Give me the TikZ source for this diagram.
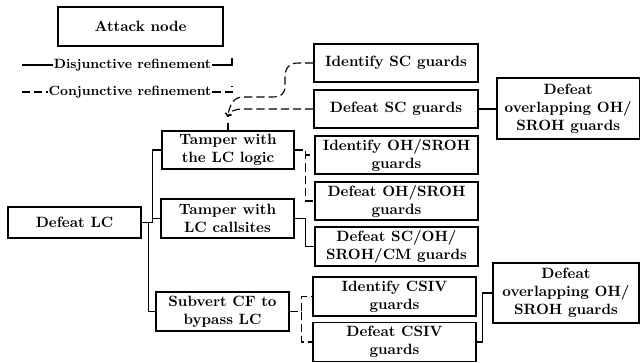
\documentclass[tikz,border=0pt]{standalone}
\usetikzlibrary{calc}
\newlength{\px}\setlength{\px}{0.671pt}
\tikzset{
  box/.style={draw, line width=0.75pt, align=center, inner sep=0pt, font=\bfseries},
  disj/.style={line width=0.75pt},
  conj/.style={line width=0.75pt, dash pattern=on 5.5pt off 2.7pt},
  legendtext/.style={fill=white, inner xsep=0.5pt, inner ysep=1pt, font=\small\bfseries},
}
\begin{document}
\begin{tikzpicture}[x=0.671pt,y=-0.671pt]
\useasboundingbox (0,0) rectangle (640,362);
% legend
\node[box, minimum width=165\px, minimum height=39\px] (attack) at (140.5,26.5) {Attack node};
\node[legendtext] (dis) at (132.5,65) {Disjunctive refinement};
\node[legendtext] (con) at (130,92) {Conjunctive refinement};
\coordinate (d0) at (22,65);
\coordinate (d1) at (232,65);
\coordinate (d2) at (232,58);
\coordinate (c0) at (22,92);
\coordinate (c1) at (232,92);
\coordinate (c2) at (232,86);
\draw[disj] (d0) -- (dis.west);
\draw[disj] (dis.east) -- (d1) -- (d2);
\draw[conj] (c0) -- (con.west);
\draw[conj] (con.east) -- (c1) -- (c2);
% nodes
\node[box, minimum width=133\px, minimum height=31\px] (dlc) at (74.5,222.5) {Defeat LC};
\node[box, minimum width=132\px, minimum height=38\px] (tlogic) at (228,150) {Tamper with\\the LC logic};
\node[box, minimum width=133\px, minimum height=39\px] (tcall) at (227.5,218.5) {Tamper with\\LC callsites};
\node[box, minimum width=133\px, minimum height=39\px] (subv) at (222.5,311.5) {Subvert CF to\\bypass LC};
\node[box, minimum width=164\px, minimum height=38\px] (idsc) at (396,63) {Identify SC guards};
\node[box, minimum width=164\px, minimum height=38\px] (defsc) at (396,109) {Defeat SC guards};
\node[box, minimum width=142.5\px, minimum height=61\px] (ovtop) at (568.25,108.5) {Defeat\\overlapping OH/\\SROH guards};
\node[box, minimum width=163\px, minimum height=38\px] (idoh) at (396.5,155) {Identify OH/SROH\\guards};
\node[box, minimum width=163\px, minimum height=38\px] (defoh) at (396.5,201) {Defeat OH/SROH\\guards};
\node[box, minimum width=163\px, minimum height=39\px] (defcm) at (396.5,246.5) {Defeat SC/OH/\\SROH/CM guards};
\node[box, minimum width=163\px, minimum height=39\px] (idcsiv) at (394.5,296.5) {Identify CSIV\\guards};
\node[box, minimum width=163\px, minimum height=38.5\px] (defcsiv) at (394.5,342) {Defeat CSIV\\guards};
\node[box, minimum width=146\px, minimum height=60\px] (ovbot) at (566,293) {Defeat\\overlapping OH/\\SROH guards};
% disjunctive edges
\draw[disj] (dlc.east) -- ++(10.5,0) |- (tlogic.west);
\draw[disj] (dlc.east) -- ++(10.5,0) |- (tcall.west);
\draw[disj] (dlc.east) -- ++(7,0) |- (subv.west);
\draw[disj] (tcall.east) -- ++(11,0) |- (defcm.west);
\draw[disj] (defsc.east) -- (ovtop.west |- defsc.east);
\draw[disj] (defcsiv.east) -- ++(6,0) |- (ovbot.west);
% conjunctive edges
\draw[conj] (tlogic.east) -- ++(11,0) |- (idoh.west);
\draw[conj] (tlogic.east) -- ++(11,0) |- (defoh.west);
\draw[conj] (subv.east) -- ++(12,0) |- (idcsiv.west);
\draw[conj] (subv.east) -- ++(12,0) |- (defcsiv.west);
% curved conjunctive arrows into Tamper with the LC logic
\coordinate (arr) at (227.5,117);
\coordinate (stub) at (228,123);
\draw[conj,->] (idsc.west) -- (298,63) .. controls (289,63) and (285,68) .. (285,78) -- (285,86) .. controls (285,94) and (281,97) .. (272,97) -- (243,97) .. controls (234,97) and (230,104) .. (arr);
\draw[conj,->] (defsc.west) -- (243,109) .. controls (235,109) and (230,111) .. (arr);
\draw[disj] (stub) -- (tlogic.north);
\end{tikzpicture}
\end{document}
